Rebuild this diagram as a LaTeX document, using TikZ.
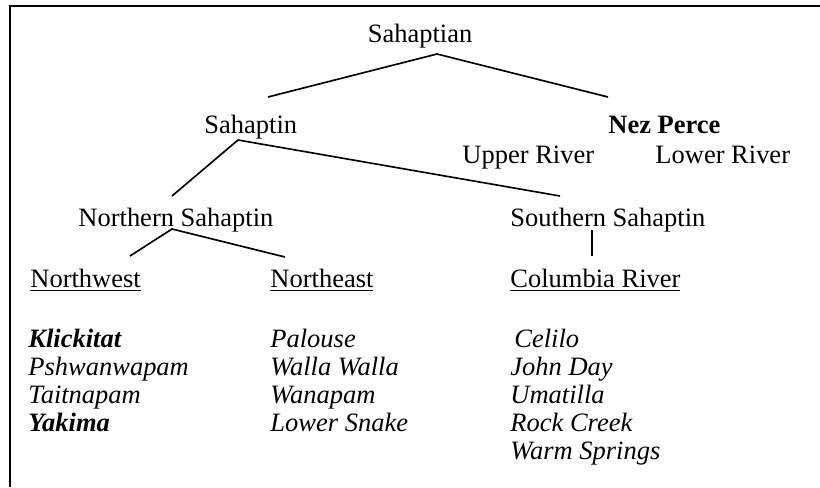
\documentclass[tikz,border=0pt]{standalone}
\usepackage{fontspec}
\setmainfont{Liberation Serif}
\usepackage{tikz}
\usetikzlibrary{calc,positioning}

\begin{document}
\begin{tikzpicture}[x=0.453pt,y=-0.453pt,
	lbl/.style={font=\fontsize{12}{14}\selectfont, inner sep=0pt, anchor=base west},
	ctr/.style={font=\fontsize{12}{14}\selectfont, inner sep=0pt, anchor=base},
	lang/.style={lbl, font=\fontsize{12}{14}\selectfont\itshape},
	branch/.style={line width=0.75pt},
	frame/.style={line width=1.3pt}]
		\useasboundingbox (0,0) rectangle (820,487);
		% frame, only top and left
		\coordinate (fbl) at (10,487); \coordinate (ftl) at (10,6); \coordinate (ftr) at (820,6);
		\draw[frame] (fbl) -- (ftl) -- (ftr);

		% tree labels
		\node[ctr] (sahaptian) at (420,42) {Sahaptian};
		\node[lbl] (sahaptin) at (204,133) {Sahaptin}; \node[lbl] (nezperce) at (608,133) {\bfseries Nez Perce};
		\node[lbl] (upper) at (462,163) {Upper River}; \node[lbl] (lower) at (655,163) {Lower River};
		\node[lbl] (northern) at (78,226) {Northern Sahaptin}; \node[lbl] (southern) at (510,226) {Southern Sahaptin};
		\node[lbl] (northwest) at (30,287) {\underline{Northwest}}; \node[lbl] (northeast) at (270,287) {\underline{Northeast}}; \node[lbl] (columbia) at (510,287) {\underline{Columbia River}};

		% branch points
		\coordinate (sahaptian-b) at (437,54); \coordinate (sahaptin-t) at (268,97); \coordinate (nezperce-t) at (608,97);
		\coordinate (sahaptin-b) at (238,140); \coordinate (northern-t) at (172,196); \coordinate (southern-t) at (560,196);
		\coordinate (northern-b) at (172,229); \coordinate (northwest-t) at (130,256); \coordinate (northeast-t) at (285,257);
		\coordinate (southern-b) at (592,230); \coordinate (columbia-t) at (592,256);

		\draw[branch] (sahaptin-t) -- (sahaptian-b) -- (nezperce-t);
		\draw[branch] (northern-t) -- (sahaptin-b) -- (southern-t);
		\draw[branch] (northwest-t) -- (northern-b) -- (northeast-t);
		\draw[branch] (southern-b) -- (columbia-t);

		% Northwest
		\node[lang] (klickitat) at (28,347) {\bfseries Klickitat}; \node[lang] (pshwanwapam) at (28,375) {Pshwanwapam};
		\node[lang] (taitnapam) at (28,403) {Taitnapam}; \node[lang] (yakima) at (28,431) {\bfseries Yakima};
		% Northeast
		\node[lang] (palouse) at (270,347) {Palouse}; \node[lang] (wallawalla) at (270,375) {Walla Walla};
		\node[lang] (wanapam) at (270,403) {Wanapam}; \node[lang] (lowersnake) at (270,431) {Lower Snake};
		% Columbia River
		\node[lang] (celilo) at (514,347) {Celilo}; \node[lang] (johnday) at (510,375) {John Day};
		\node[lang] (umatilla) at (510,403) {Umatilla}; \node[lang] (rockcreek) at (510,431) {Rock Creek};
		\node[lang] (warmsprings) at (510,459) {Warm Springs};
	\end{tikzpicture}
\end{document}
